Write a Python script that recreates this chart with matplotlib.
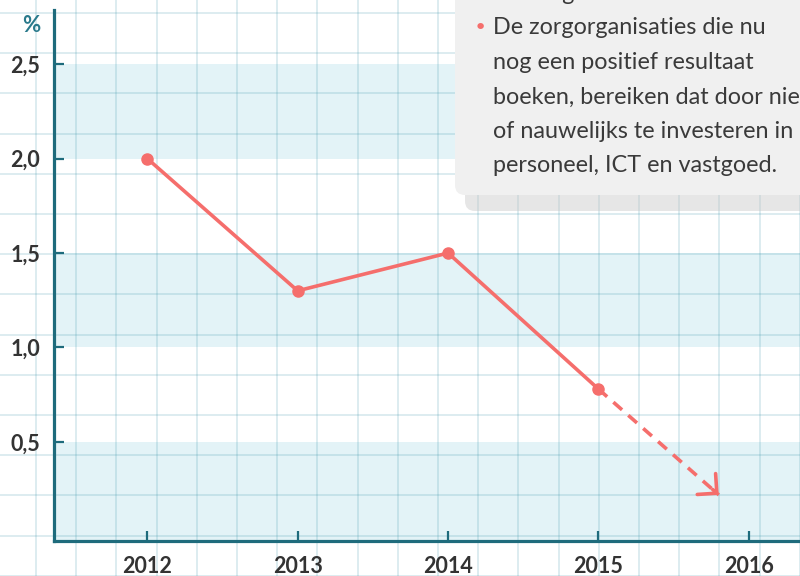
import matplotlib
matplotlib.use("Agg")
import matplotlib.pyplot as plt
from matplotlib.patches import FancyBboxPatch
from matplotlib.transforms import IdentityTransform

# data
years = [2012, 2013, 2014, 2015]
values = [2.0, 1.3, 1.5, 0.78]
trend_years = [2015, 2015.8]
trend_values = [0.78, 0.22]
xtick_years = [2012, 2013, 2014, 2015, 2016]
ytick_vals = [0.5, 1.0, 1.5, 2.0, 2.5]
ytick_labels = ["0,5", "1,0", "1,5", "2,0", "2,5"]
bands = [(-1.0, 0.5), (1.0, 1.5), (2.0, 2.5)]
note_prev = "een negatief resultaat."
note_lines = ["De zorgorganisaties die nu",
              "nog een positief resultaat",
              "boeken, bereiken dat door niet",
              "of nauwelijks te investeren in",
              "personeel, ICT en vastgoed."]

W, H = 800, 576
RED = "#f56e6c"
TEAL = "#1e6b7c"
TXT = "#333333"
FONT = "Lato"

fig = plt.figure(figsize=(W / 100, H / 100), dpi=100, facecolor="white")
ax = fig.add_axes([54 / W, 35 / H, 1 - 54 / W, 531 / H])
ax.set_facecolor("white")
ax.set_xlim(2011.38, 2016.34)
ax.set_ylim(-0.024, 2.786)

# lichte banden
for lo, hi in bands:
    ax.axhspan(lo, hi, color="#e3f3f7", lw=0, zorder=0.5)

# ruitjespapier over de hele figuur
step = 40.2
for k in range(21):
    x = (36 + step * k) / W
    ax.plot([x, x], [0, 1], transform=fig.transFigure, clip_on=False,
            color="#2a8aa0", alpha=0.16, lw=1.4, zorder=1)
for k in range(15):
    y = 1 - (13 + step * k) / H
    ax.plot([0, 1], [y, y], transform=fig.transFigure, clip_on=False,
            color="#2a8aa0", alpha=0.16, lw=1.4, zorder=1)

# lijn
ax.plot(years, values, color=RED, lw=2.6, marker="o", ms=8,
        solid_capstyle="round", zorder=3)
ax.plot(trend_years, trend_values, color=RED, lw=2.6, ls=(0, (3.2, 2.3)),
        zorder=3)
dx = trend_years[1] - trend_years[0]
dy = trend_values[1] - trend_values[0]
ax.annotate("", xy=(trend_years[1], trend_values[1]),
            xytext=(trend_years[1] - dx * 0.05, trend_values[1] - dy * 0.05),
            arrowprops=dict(arrowstyle="->,head_length=1.0,head_width=1.0",
                            color=RED, lw=2.6, shrinkA=0, shrinkB=0,
                            mutation_scale=10),
            zorder=3)

# assen
for s in ["top", "right"]:
    ax.spines[s].set_visible(False)
for s in ["left", "bottom"]:
    ax.spines[s].set_color(TEAL)
    ax.spines[s].set_linewidth(2.3)
    ax.spines[s].set_zorder(4)

ax.set_xticks(xtick_years)
ax.set_xticklabels([str(y) for y in xtick_years])
ax.set_yticks(ytick_vals)
ax.set_yticklabels(ytick_labels)
ax.tick_params(axis="both", direction="in", length=7.5, width=1.6,
               color=TEAL, labelcolor=TXT, labelsize=15.5)
ax.tick_params(axis="y", pad=10)
ax.tick_params(axis="x", pad=11)
for lab in ax.get_xticklabels() + ax.get_yticklabels():
    lab.set_fontfamily(FONT)
    lab.set_fontweight("bold")

fig.text(31 / W, 1 - 25 / H, "%", color="#2a7a8c", fontsize=16,
         fontweight="bold", family=FONT, ha="center", va="center")

# tekstvak rechtsboven
shadow = FancyBboxPatch((465, H - 211), 400, 260,
                        boxstyle="round,pad=0,rounding_size=10",
                        transform=IdentityTransform(), facecolor="#c8c8c8",
                        alpha=0.45, lw=0, zorder=4)
box = FancyBboxPatch((455, H - 195), 400, 260,
                     boxstyle="round,pad=0,rounding_size=10",
                     transform=IdentityTransform(), facecolor="#f0f0f0",
                     lw=0, zorder=5)
fig.patches.extend([shadow, box])

line_h = 34.5
note_size = 16.8
fig.text(493 / W, 1 - (28 - line_h) / H, note_prev, color="#3a3a3a",
         fontsize=note_size, family=FONT, va="center", zorder=6)
fig.text(480 / W, 1 - 28 / H, "\u2022", color=RED, fontsize=16,
         family="DejaVu Sans", ha="center", va="center", zorder=6)
for i, line in enumerate(note_lines):
    fig.text(493 / W, 1 - (28 + line_h * i) / H, line, color="#3a3a3a",
             fontsize=note_size, family=FONT, va="center", zorder=6)

fig.savefig("out.png", dpi=100)
